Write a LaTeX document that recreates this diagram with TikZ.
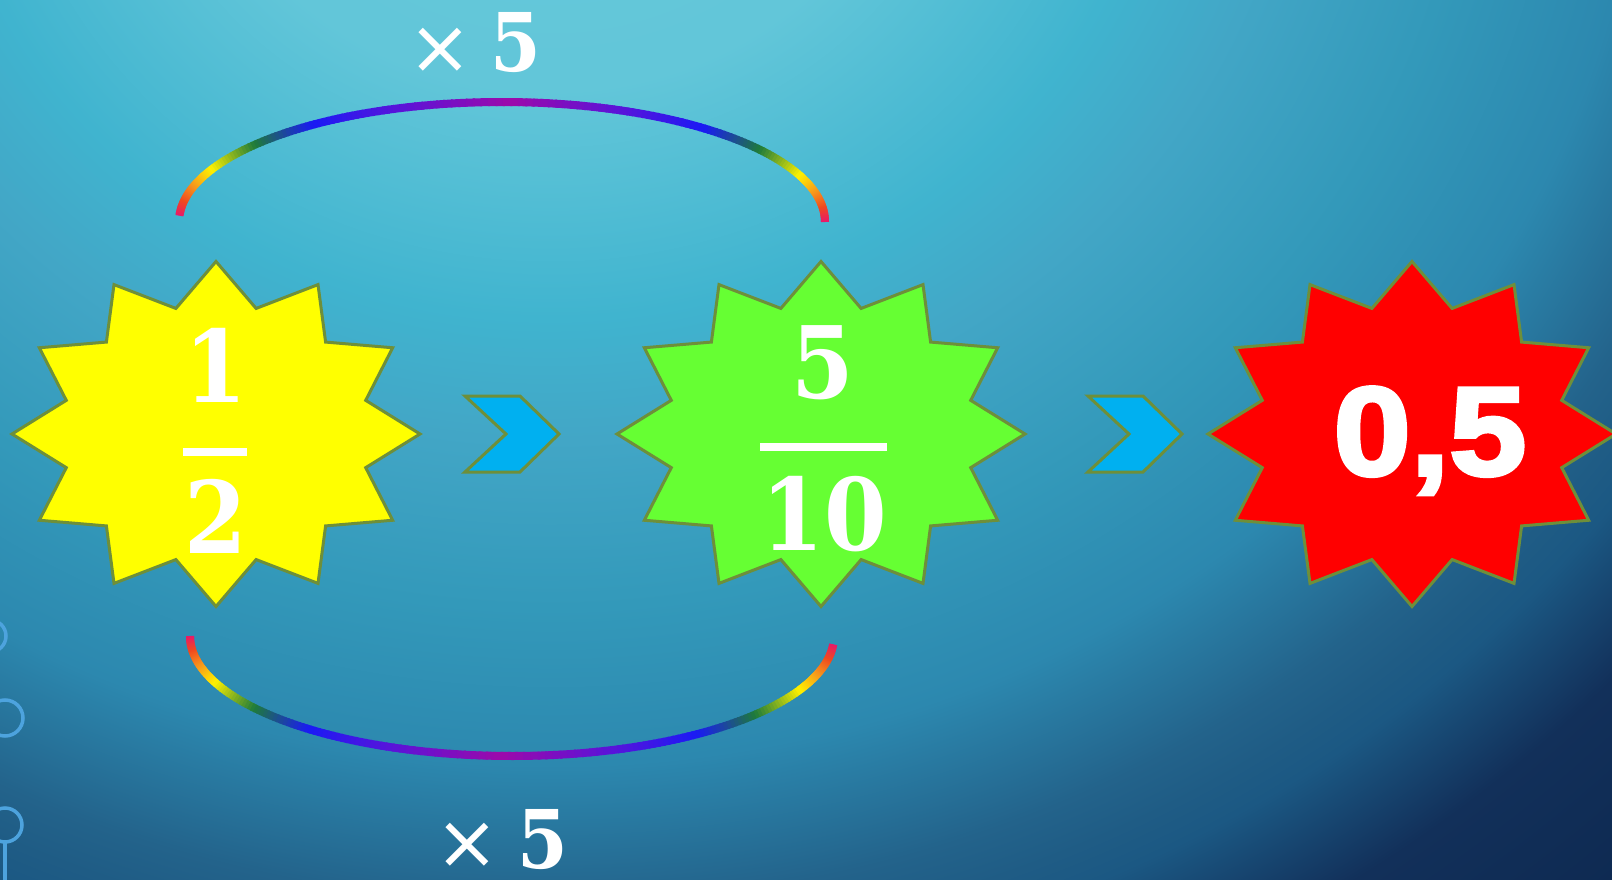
\documentclass[tikz,border=0pt]{standalone}
\usepackage{fontspec}
\usepackage{graphicx}
\newfontfamily\numfont{DejaVu Serif Condensed}
\newfontfamily\symfont{DejaVu Sans}
\newfontfamily\heavyfont[FakeBold=3]{Liberation Sans}
\definecolor{bg0}{HTML}{66C9DB}
\definecolor{bg1}{HTML}{62C6D9}
\definecolor{bg2}{HTML}{40B4CF}
\definecolor{bg3}{HTML}{42A6C6}
\definecolor{bg4}{HTML}{3399BA}
\definecolor{bg5}{HTML}{2C88AF}
\definecolor{bg6}{HTML}{23638B}
\definecolor{bg7}{HTML}{1F5C85}
\definecolor{bg8}{HTML}{1B5883}
\definecolor{bg9}{HTML}{12305A}
\definecolor{bg10}{HTML}{0E2A52}
\definecolor{starline}{HTML}{6E8F3A}
\definecolor{staryellow}{HTML}{FFFF00}
\definecolor{stargreen}{HTML}{66FF33}
\definecolor{starred}{HTML}{FF0000}
\definecolor{chevfill}{HTML}{00B0F0}
\definecolor{deco}{HTML}{4DA3DE}
\definecolor{rbA}{HTML}{E8186A}
\definecolor{rbB}{HTML}{F04A1E}
\definecolor{rbC}{HTML}{F7941D}
\definecolor{rbD}{HTML}{FFF200}
\definecolor{rbE}{HTML}{1E7B3A}
\definecolor{rbF}{HTML}{1A1AF5}
\definecolor{rbH}{HTML}{5514DC}
\definecolor{rbG}{HTML}{9C0AAA}
\pgfdeclareradialshading{bgshade}{\pgfpoint{0bp}{0bp}}{color(0bp)=(bg0); color(3.4bp)=(bg1); color(5.68bp)=(bg2); color(6.9bp)=(bg3); color(8.58bp)=(bg4); color(10.15bp)=(bg5); color(11.54bp)=(bg6); color(12.01bp)=(bg7); color(12.39bp)=(bg8); color(13.53bp)=(bg9); color(15bp)=(bg10); color(50bp)=(bg10)}
\tikzset{
  starshape/.style={draw=starline, line width=3, line join=miter},
  chevron/.style={draw=starline, line width=3, fill=chevfill, line join=miter},
  decoline/.style={draw=deco, line width=3.5},
  rainbowseg/.style={line width=8, line cap=butt},
  fracnum/.style={text=white, inner sep=0, anchor=base, font=\numfont\bfseries\fontsize{100}{100}\selectfont},
  barline/.style={draw=white, line width=7.5},
  timeslbl/.style={text=white, inner sep=0, font=\symfont\fontsize{76}{76}\selectfont},
  fivelbl/.style={text=white, inner sep=0, anchor=base, font=\numfont\bfseries\fontsize{81}{81}\selectfont},
  declbl/.style={text=white, inner sep=0, anchor=base, font=\heavyfont\bfseries\fontsize{126}{126}\selectfont},
}
\newcommand\rainbowarc[6]{%
  \foreach \sa/\sb/\ca/\cb in {0/0.04/rbA/rbB, 0.04/0.08/rbB/rbC, 0.08/0.13/rbC/rbD, 0.13/0.21/rbD/rbE, 0.21/0.29/rbE/rbF, 0.29/0.38/rbF/rbH, 0.38/0.5/rbH/rbG, 0.5/0.62/rbG/rbH, 0.62/0.71/rbH/rbF, 0.71/0.79/rbF/rbE, 0.79/0.87/rbE/rbD, 0.87/0.92/rbD/rbC, 0.92/0.96/rbC/rbB, 0.96/1/rbB/rbA}{
    \foreach \k in {0,...,15}{
      \pgfmathsetmacro\ta{#5+(#6-#5)*(\sa+(\sb-\sa)*\k/16)}
      \pgfmathsetmacro\tb{#5+(#6-#5)*min(\sa+(\sb-\sa)*(\k+1)/16+0.002,1)}
      \pgfmathsetmacro\pc{100-100*(\k+0.5)/16}
      \draw[rainbowseg, color=\ca!\pc!\cb] plot[domain=\ta:\tb, samples=3] ({#1+#3*cos(\x)}, {#2-#4*sin(\x)});
    }}}
\newcommand\starat[2]{%
  \draw[starshape, fill=#2] plot[samples at={0,...,23}] ({#1+(iseven(\x)*204+isodd(\x)*155)*cos(15*\x)}, {434-(iseven(\x)*172.5+isodd(\x)*130)*sin(15*\x)}) -- cycle;}
\begin{document}
\begin{tikzpicture}[x=1pt,y=-1pt]
\useasboundingbox (0,0) rectangle (1612,880);
\clip (0,0) rectangle (1612,880);
% background (explicit canvas units: image y = - canvas y)
\fill[bg10] (0,0) rectangle (1612,880);
\shade[shading=bgshade] (550pt,250pt) ellipse [x radius=2700pt, y radius=2500pt];
% left decoration
\draw[decoline] (-10,636) circle (16);
\draw[decoline] (5,718) circle (18);
\draw[decoline] (5,825) circle (17);
\coordinate (decoTop) at (5,842);
\coordinate (decoBot) at (5,882);
\draw[decoline] (decoTop) -- (decoBot);
% rainbow arcs
\rainbowarc{502}{222}{323}{120}{177}{0}
\rainbowarc{512}{636}{322}{120}{180}{356}
% stars
\starat{216}{staryellow}
\starat{821}{stargreen}
\starat{1412}{starred}
% chevrons
\draw[chevron] (465,396) -- (520,396) -- (559,434) -- (520,472) -- (465,472) -- (506,434) -- cycle;
\draw[chevron] (1088,396) -- (1143,396) -- (1182,434) -- (1143,472) -- (1088,472) -- (1129,434) -- cycle;
% fraction 1/2
\node[fracnum] (n1) at (216,402) {1};
\node[fracnum] (d1) at (216,553) {2};
\draw[barline] (183,452) -- (247,452);
% fraction 5/10
\node[fracnum] (n2) at (823,398) {5};
\node[fracnum] (d2) at (824,550) {10};
\draw[barline] (760,447) -- (887,447);
% decimal
\node[declbl] (dec) at (1430,475) {\scalebox{1.1}[1]{0,5}};
% times labels
\node[timeslbl] (tt) at (440,51) {×};
\node[fivelbl] (tf) at (516,72) {5};
\node[timeslbl] (bt) at (467,846) {×};
\node[fivelbl] (bf) at (543,868) {5};
\end{tikzpicture}
\end{document}
